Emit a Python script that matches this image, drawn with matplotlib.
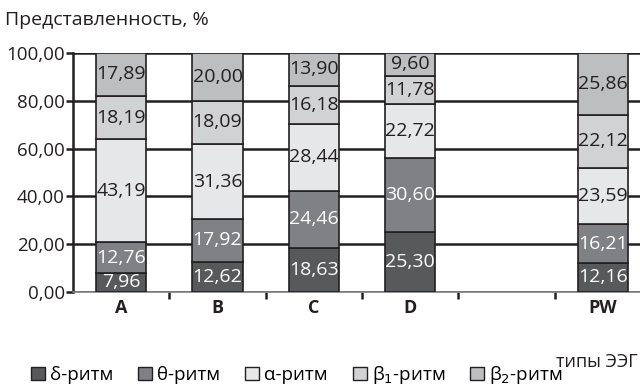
import matplotlib
matplotlib.use("Agg")
import matplotlib.pyplot as plt
import numpy as np
from matplotlib.patches import Patch

categories = ["A", "B", "C", "D", "", "PW"]
series_names = ["δ-ритм", "θ-ритм", "α-ритм", "β$_1$-ритм", "β$_2$-ритм"]
delta = [7.96, 12.62, 18.63, 25.30, None, 12.16]
theta = [12.76, 17.92, 24.46, 30.60, None, 16.21]
alpha = [43.19, 31.36, 28.44, 22.72, None, 23.59]
beta1 = [18.19, 18.09, 16.18, 11.78, None, 22.12]
beta2 = [17.89, 20.00, 13.90, 9.60, None, 25.86]
yticks = [0, 20, 40, 60, 80, 100]

colors = ["#58595b", "#808184", "#e6e7e8", "#d1d2d4", "#bcbec0"]
text_colors = ["white", "white", "#231f20", "#231f20", "#231f20"]

plt.rcParams['font.family'] = ['Open Sans', 'DejaVu Sans']

fig = plt.figure(figsize=(6.4, 3.85), dpi=100)
ax = fig.add_axes([73/640, 1-292/385, 578/640, 239/385])

series = [delta, theta, alpha, beta1, beta2]
x = np.arange(len(categories))
for i, cat in enumerate(categories):
    vals = [s[i] for s in series]
    if vals[0] is None:
        continue
    total = sum(vals)
    bottom = 0
    for j, v in enumerate(vals):
        h = v / total * 100
        ax.bar(i, h, bottom=bottom, width=0.52, color=colors[j],
               edgecolor="#231f20", linewidth=1.2, zorder=3)
        ax.text(i, bottom + h/2, f"{v:.2f}".replace(".", ","), ha="center",
                va="center", fontsize=14, color=text_colors[j], zorder=4)
        bottom += h

ax.set_xlim(-0.5, len(categories) - 0.5)
ax.set_ylim(0, 100)
ax.set_yticks(yticks)
ax.set_yticklabels([f"{t:.2f}".replace(".", ",") for t in yticks], fontsize=13.5, color="#231f20")
ax.yaxis.grid(True, color="#231f20", linewidth=1.8, zorder=0)
ax.set_axisbelow(True)
ax.set_xticks(x)
ax.set_xticklabels(categories, fontsize=13, fontweight="bold", color="#231f20")
ax.tick_params(axis="x", length=0, pad=5)
ax.set_xticks(np.arange(0.5, len(categories) - 1), minor=True)
ax.tick_params(axis="x", which="minor", length=5, width=1.8, color="#231f20")
ax.tick_params(axis="y", length=5, width=1.8, color="#231f20", pad=1)
for s in ["top", "right"]:
    ax.spines[s].set_visible(False)
ax.spines["left"].set_color("#231f20")
ax.spines["left"].set_linewidth(1.8)
ax.spines["bottom"].set_color("#808184")
ax.spines["bottom"].set_linewidth(1.2)

fig.text(5/640, 1-20/385, "Представленность, %", fontsize=14, va="center", ha="left", color="#231f20")
fig.text(638/640, 1-362/385, "типы ЭЭГ", fontsize=13, va="center", ha="right", color="#231f20")

handles = [Patch(facecolor=c, edgecolor="#231f20", linewidth=1.0) for c in colors]
fig.legend(handles, series_names, loc="center left", bbox_to_anchor=(31/640, 1-375/385),
           ncol=5, frameon=False, fontsize=13.5, handlelength=0.75, handleheight=0.75,
           handletextpad=0.25, columnspacing=1.35, borderpad=0, borderaxespad=0)

fig.savefig("out.png", dpi=100)
